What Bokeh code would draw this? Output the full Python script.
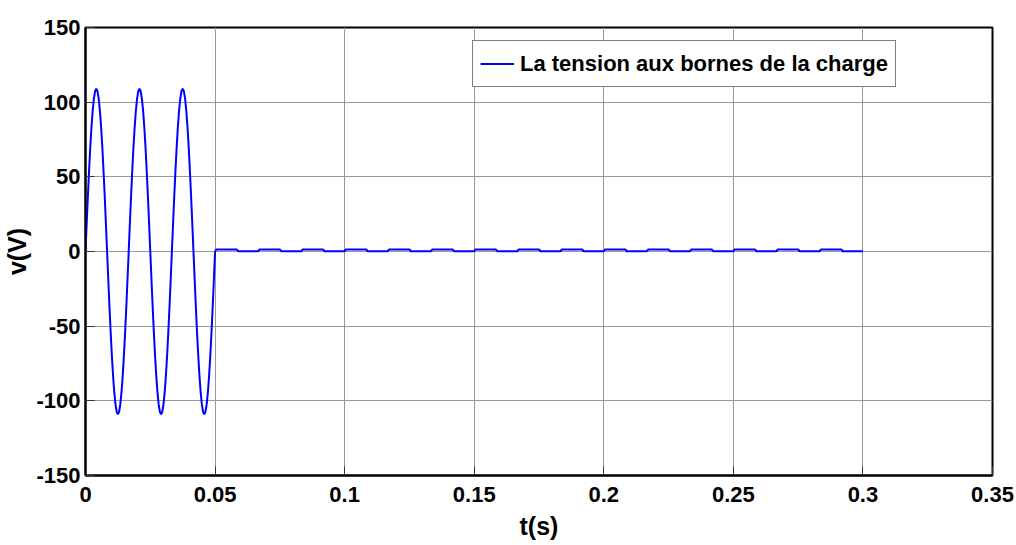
from bokeh.plotting import figure
from bokeh.models import Range1d, FixedTicker, Legend, LegendItem, ColumnDataSource
from bokeh.embed import file_html
from bokeh.resources import INLINE

# ---- data ----
# sine part: 60 Hz wave sampled every 1/2160 s (10 degrees), 0 .. 0.05 s
sine_dt = 1.0 / 2160.0
sine_v = [
    0, 18.9, 37.3, 54.5, 70.1, 83.5, 94.4, 102.4, 107.3, 109.0, 107.3, 102.4, 94.4, 83.5, 70.1, 54.5, 37.3, 18.9,
    0, -18.9, -37.3, -54.5, -70.1, -83.5, -94.4, -102.4, -107.3, -109.0, -107.3, -102.4, -94.4, -83.5, -70.1, -54.5, -37.3, -18.9,
    0, 18.9, 37.3, 54.5, 70.1, 83.5, 94.4, 102.4, 107.3, 109.0, 107.3, 102.4, 94.4, 83.5, 70.1, 54.5, 37.3, 18.9,
    0, -18.9, -37.3, -54.5, -70.1, -83.5, -94.4, -102.4, -107.3, -109.0, -107.3, -102.4, -94.4, -83.5, -70.1, -54.5, -37.3, -18.9,
    0, 18.9, 37.3, 54.5, 70.1, 83.5, 94.4, 102.4, 107.3, 109.0, 107.3, 102.4, 94.4, 83.5, 70.1, 54.5, 37.3, 18.9,
    0, -18.9, -37.3, -54.5, -70.1, -83.5, -94.4, -102.4, -107.3, -109.0, -107.3, -102.4, -94.4, -83.5, -70.1, -54.5, -37.3, -18.9,
    0,
]
# after 0.05 s: small ripple, one level per half cycle (1/120 s) up to 0.3 s
ripple_start = 0.05
ripple_half = 1.0 / 120.0
ripple_levels = [
    1.4, 0.2, 1.4, 0.2, 1.4, 0.2, 1.4, 0.2, 1.4, 0.2,
    1.4, 0.2, 1.4, 0.2, 1.4, 0.2, 1.4, 0.2, 1.4, 0.2,
    1.4, 0.2, 1.4, 0.2, 1.4, 0.2, 1.4, 0.2, 1.4, 0.2,
]
x_ticks = [0, 0.05, 0.1, 0.15, 0.2, 0.25, 0.3, 0.35]
x_tick_labels = ["0", "0.05", "0.1", "0.15", "0.2", "0.25", "0.3", "0.35"]
y_ticks = [-150, -100, -50, 0, 50, 100, 150]
y_tick_labels = ["-150", "-100", "-50", "0", "50", "100", "150"]
legend_label = "La tension aux bornes de la charge"

# ---- build series ----
t = [i * sine_dt for i in range(len(sine_v))]
v = list(sine_v)
ramp = 0.0005
for i, lev in enumerate(ripple_levels):
    t0 = ripple_start + i * ripple_half
    t.append(t0 + ramp)
    v.append(lev)
    t.append(t0 + ripple_half)
    v.append(lev)

src = ColumnDataSource(data=dict(t=t, v=v))

FONT = "Liberation Sans"

p = figure(width=1016, height=545, output_backend="svg", toolbar_location=None,
           x_range=Range1d(0, 0.35), y_range=Range1d(-150, 150))
p.min_border_left = 85
p.min_border_right = 24
p.min_border_top = 27
p.min_border_bottom = 70
p.background_fill_color = "white"
p.border_fill_color = "white"
p.outline_line_color = "black"
p.outline_line_width = 2

r = p.line("t", "v", source=src, line_color="#0000ff", line_width=2)

p.xaxis.ticker = FixedTicker(ticks=x_ticks)
p.yaxis.ticker = FixedTicker(ticks=y_ticks)
p.xaxis.major_label_overrides = dict(zip(x_ticks, x_tick_labels))
p.yaxis.major_label_overrides = dict(zip(y_ticks, y_tick_labels))

for ax in (p.xaxis, p.yaxis):
    ax.axis_line_color = "black"
    ax.axis_line_width = 2
    ax.major_tick_in = 9
    ax.major_tick_out = 0
    ax.major_tick_line_color = "#333333"
    ax.minor_tick_line_color = None
    ax.major_label_text_font = FONT
    ax.major_label_text_font_style = "bold"
    ax.major_label_text_font_size = "22px"
    ax.major_label_text_color = "black"
    ax.axis_label_text_font = FONT
    ax.axis_label_text_font_style = "bold"
    ax.axis_label_text_font_size = "25px"
    ax.axis_label_text_color = "black"

p.xaxis.axis_label = "t(s)"
p.yaxis.axis_label = "v(V)"
p.xaxis.major_label_standoff = 11
p.yaxis.major_label_standoff = 5
p.xaxis.axis_label_standoff = 7
p.yaxis.axis_label_standoff = 2

p.xgrid.grid_line_color = "#999999"
p.ygrid.grid_line_color = "#999999"
p.xgrid.grid_line_width = 1
p.ygrid.grid_line_width = 1

legend = Legend(items=[LegendItem(label=legend_label, renderers=[r])],
                location=(387, 388))
legend.label_text_font = FONT
legend.label_text_font_style = "bold"
legend.label_text_font_size = "22px"
legend.label_text_color = "black"
legend.border_line_color = "black"
legend.border_line_width = 1.5
legend.background_fill_alpha = 1
legend.glyph_width = 34
legend.glyph_height = 31
legend.label_height = 31
legend.padding = 7
legend.margin = 0
legend.label_standoff = 6
p.add_layout(legend, "center")

open("out.html", "w").write(file_html(p, INLINE))
